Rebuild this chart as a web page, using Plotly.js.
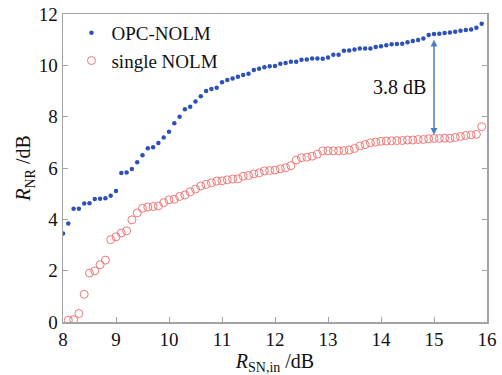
<!DOCTYPE html>
<html>
<head>
<meta charset="utf-8">
<script src="https://cdn.plot.ly/plotly-3.0.1.min.js"></script>
<style>html,body{margin:0;padding:0;background:#fff}#chart{width:502px;height:375px}</style>
</head>
<body>
<div id="chart"></div>
<script>
// OPC-NOLM series
const opcX = [8.0,8.1,8.2,8.3,8.4,8.5,8.6,8.7,8.8,8.9,9.0,9.1,9.2,9.3,9.4,9.5,9.6,9.7,9.8,9.9,
  10.0,10.1,10.2,10.3,10.4,10.5,10.6,10.7,10.8,10.9,11.0,11.1,11.2,11.3,11.4,11.5,11.6,11.7,11.8,11.9,
  12.0,12.1,12.2,12.3,12.4,12.5,12.6,12.7,12.8,12.9,13.0,13.1,13.2,13.3,13.4,13.5,13.6,13.7,13.8,13.9,
  14.0,14.1,14.2,14.3,14.4,14.5,14.6,14.7,14.8,14.9,15.0,15.1,15.2,15.3,15.4,15.5,15.6,15.7,15.8,15.9];
const opcY = [3.45,3.84,4.41,4.41,4.62,4.63,4.79,4.80,4.82,4.92,5.10,5.81,5.82,5.96,6.22,6.50,6.77,6.81,6.97,7.19,
  7.41,7.74,8.00,8.29,8.39,8.59,8.80,9.00,9.08,9.13,9.34,9.43,9.49,9.56,9.62,9.67,9.82,9.87,9.93,9.96,
  9.97,10.06,10.09,10.14,10.14,10.22,10.23,10.27,10.27,10.26,10.31,10.41,10.41,10.57,10.58,10.62,10.66,10.66,10.66,10.71,
  10.74,10.78,10.82,10.83,10.84,10.90,10.95,10.99,11.05,11.18,11.22,11.23,11.26,11.28,11.31,11.35,11.38,11.40,11.46,11.62];

// single NOLM series
const singleX = [8.1,8.2,8.3,8.4,8.5,8.6,8.7,8.8,8.9,9.0,9.1,9.2,9.3,9.4,9.5,9.6,9.7,9.8,9.9,
  10.0,10.1,10.2,10.3,10.4,10.5,10.6,10.7,10.8,10.9,11.0,11.1,11.2,11.3,11.4,11.5,11.6,11.7,11.8,11.9,
  12.0,12.1,12.2,12.3,12.4,12.5,12.6,12.7,12.8,12.9,13.0,13.1,13.2,13.3,13.4,13.5,13.6,13.7,13.8,13.9,
  14.0,14.1,14.2,14.3,14.4,14.5,14.6,14.7,14.8,14.9,15.0,15.1,15.2,15.3,15.4,15.5,15.6,15.7,15.8,15.9];
const singleY = [0.07,0.09,0.33,1.08,1.91,1.99,2.23,2.41,3.21,3.32,3.47,3.55,3.98,4.25,4.43,4.48,4.50,4.52,4.65,
  4.76,4.78,4.89,4.95,5.07,5.18,5.30,5.36,5.42,5.49,5.50,5.54,5.57,5.58,5.68,5.71,5.77,5.81,5.89,5.90,
  5.92,5.97,6.01,6.09,6.31,6.40,6.42,6.46,6.54,6.67,6.67,6.67,6.67,6.68,6.70,6.76,6.86,6.91,6.98,7.01,
  7.04,7.05,7.06,7.07,7.07,7.09,7.09,7.11,7.11,7.14,7.15,7.15,7.16,7.16,7.19,7.23,7.27,7.29,7.31,7.61];

const seriesNames = ["OPC-NOLM", "single NOLM"];
const xTicks = [8,9,10,11,12,13,14,15,16];
const yTicks = [0,2,4,6,8,10,12];
const gapLabel = "3.8 dB";
const gapX = 15;
const gapLow = 7.24, gapHigh = 11.0;

const serif = "Liberation Serif, DejaVu Serif, serif";
const axisGray = "#a3a3a3";

const traces = [
  {x: opcX, y: opcY, name: seriesNames[0], type: "scatter", mode: "markers",
   marker: {symbol: "circle", size: 4.5, color: "#2d52b4"}},
  {x: singleX, y: singleY, name: seriesNames[1], type: "scatter", mode: "markers",
   marker: {symbol: "circle-open", size: 8, color: "#f07878", line: {width: 1, color: "#f07878"}}}
];

const layout = {
  width: 502, height: 375,
  margin: {l: 63, r: 15, t: 14, b: 53},
  paper_bgcolor: "#fff", plot_bgcolor: "#fff",
  font: {family: serif, color: "#111", size: 19},
  showlegend: true,
  legend: {x: 0.02, y: 1.0, xanchor: "left", yanchor: "top",
    bgcolor: "rgba(0,0,0,0)", font: {family: serif, size: 19, color: "#111"},
    itemsizing: "trace", tracegroupgap: 0},
  xaxis: {range: [8, 16], tickvals: xTicks, ticktext: xTicks.map(String),
    ticks: "inside", ticklen: 5, tickcolor: axisGray, tickwidth: 1,
    showline: true, linecolor: axisGray, linewidth: 1.5, mirror: true,
    showgrid: false, zeroline: false, automargin: false,
    tickfont: {family: serif, size: 19, color: "#111"},
    title: {text: "<i>R</i><sub>SN,in</sub> /dB", font: {family: serif, size: 20, color: "#111"}, standoff: 5}},
  yaxis: {range: [0, 12], tickvals: yTicks, ticktext: yTicks.map(String),
    ticks: "inside", ticklen: 5, tickcolor: axisGray, tickwidth: 1,
    showline: true, linecolor: axisGray, linewidth: 1.5, mirror: "ticks",
    showgrid: false, zeroline: false, automargin: false,
    tickfont: {family: serif, size: 19, color: "#111"},
    title: {text: "<i>R</i><sub>NR</sub> /dB", font: {family: serif, size: 20, color: "#111"}, standoff: 2}},
  annotations: [
    {x: gapX, y: gapHigh, ax: gapX, ay: gapLow, xref: "x", yref: "y", axref: "x", ayref: "y",
     text: "", showarrow: true, arrowside: "end+start", arrowhead: 2, arrowsize: 0.9,
     arrowwidth: 1.5, arrowcolor: "#4a7cc4"},
    {x: 14.35, y: 9.15, xref: "x", yref: "y", text: gapLabel, showarrow: false,
     font: {family: serif, size: 20, color: "#111"}}
  ]
};

Plotly.newPlot("chart", traces, layout, {staticPlot: true, displayModeBar: false});
</script>
</body>
</html>
